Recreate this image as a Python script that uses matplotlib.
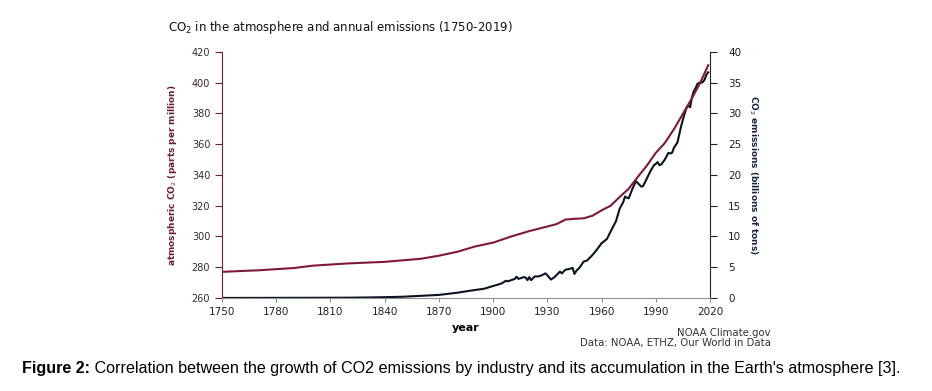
import matplotlib
matplotlib.use("Agg")
import matplotlib.pyplot as plt

# --- data ---
co2_years = [1750, 1770, 1790, 1800, 1820, 1840, 1850, 1860, 1870, 1880, 1890,
             1900, 1910, 1920, 1930, 1935, 1940, 1945, 1950, 1955, 1960, 1965,
             1970, 1975, 1980, 1985, 1990, 1995, 2000, 2005, 2010, 2015, 2019]
co2_ppm = [277, 278, 279.5, 281, 282.5, 283.5, 284.5, 285.5, 287.5, 290, 293.5,
           296, 300, 303.5, 306.5, 308, 311, 311.5, 311.8, 313.5, 317, 320,
           325.7, 331, 338.7, 346, 354.4, 360.8, 369.7, 379.8, 389.9, 401, 411.4]

em_years = [1750, 1760, 1770, 1780, 1790, 1800, 1810, 1820, 1830, 1840, 1850,
            1860, 1870, 1880, 1890, 1895, 1900, 1903, 1905, 1907, 1908, 1910,
            1912, 1913, 1914, 1916, 1917, 1918, 1919, 1920, 1921, 1923, 1925,
            1927, 1929, 1930, 1932, 1934, 1936, 1937, 1938, 1940, 1942, 1944,
            1945, 1946, 1948, 1950, 1952, 1955, 1957, 1960, 1963, 1965, 1968,
            1970, 1972, 1973, 1974, 1975, 1977, 1979, 1980, 1982, 1983, 1985,
            1987, 1989, 1990, 1991, 1992, 1993, 1995, 1997, 1998, 1999, 2000,
            2002, 2003, 2004, 2005, 2006, 2007, 2008, 2009, 2010, 2011, 2012,
            2013, 2014, 2015, 2016, 2017, 2018, 2019]
em_gt = [0.009, 0.01, 0.015, 0.02, 0.025, 0.03, 0.04, 0.05, 0.08, 0.13, 0.2,
         0.35, 0.5, 0.85, 1.3, 1.5, 1.95, 2.2, 2.4, 2.8, 2.7, 2.9,
         3.1, 3.45, 3.1, 3.3, 3.4, 3.3, 2.9, 3.4, 2.9, 3.5, 3.5,
         3.7, 4.0, 3.7, 3.0, 3.4, 4.0, 4.3, 4.0, 4.6, 4.7, 4.9,
         3.9, 4.4, 5.0, 5.9, 6.1, 7.0, 7.7, 8.9, 9.6, 10.8, 12.5,
         14.5, 15.6, 16.5, 16.3, 16.2, 17.7, 19.0, 18.7, 18.1, 18.2, 19.4,
         20.6, 21.6, 21.8, 22.1, 21.6, 21.7, 22.5, 23.6, 23.5, 23.6, 24.4,
         25.3, 26.6, 27.9, 29.0, 30.0, 30.9, 31.3, 31.0, 32.6, 33.6, 34.1,
         34.8, 35.0, 35.0, 35.1, 35.5, 36.3, 36.7]

x_ticks = [1750, 1780, 1810, 1840, 1870, 1900, 1930, 1960, 1990, 2020]
ppm_ticks = [260, 280, 300, 320, 340, 360, 380, 400, 420]
em_ticks = [0, 5, 10, 15, 20, 25, 30, 35, 40]

maroon = "#6b1e3c"
navy = "#1a2340"

fig = plt.figure(figsize=(9.32, 3.91), dpi=100)
ax = fig.add_axes([0.2382, 0.2379, 0.5236, 0.6291])
ax2 = ax.twinx()

ax.plot(co2_years, co2_ppm, color="#7e1a38", lw=1.5, zorder=3)
ax2.plot(em_years, em_gt, color="#0d1220", lw=1.5, zorder=2)
ax.set_zorder(ax2.get_zorder() + 1)
ax.patch.set_visible(False)

ax.set_xlim(1750, 2020)
ax.set_ylim(260, 420)
ax2.set_ylim(0, 40)
ax.set_xticks(x_ticks)
ax.set_yticks(ppm_ticks)
ax2.set_yticks(em_ticks)

for a in (ax, ax2):
    a.spines["top"].set_visible(False)
ax.spines["right"].set_visible(False)
ax2.spines["left"].set_visible(False)
ax2.spines["bottom"].set_visible(False)
ax.spines["left"].set_color(maroon)
ax2.spines["right"].set_color(navy)
ax.spines["bottom"].set_color("#909090")

ax.tick_params(axis="y", colors=maroon, labelcolor="#3a2a30", labelsize=7, length=5, width=0.8)
ax.tick_params(axis="x", colors="#909090", labelcolor="#222222", labelsize=7.5, length=3, width=0.8)
ax2.tick_params(axis="y", colors=navy, labelcolor="#1a2030", labelsize=7.5, length=5, width=0.8, pad=8)

ax.set_ylabel("atmospheric CO$_2$ (parts per million)", color=maroon, fontsize=6.5,
              fontweight="bold", labelpad=9)
ax2.set_ylabel("CO$_2$ emissions (billions of tons)", color=navy, fontsize=6.5,
               fontweight="bold", rotation=270, labelpad=13)
ax.set_xlabel("year", fontsize=8, fontweight="bold", labelpad=4)

fig.text(168 / 932, 1 - 28 / 391, "CO$_2$ in the atmosphere and annual emissions (1750-2019)",
         fontsize=8.5, va="center", ha="left", color="#111111")
fig.text(771 / 932, 1 - 333 / 391, "NOAA Climate.gov", fontsize=7.3, ha="right", va="center",
         color="#333333")
fig.text(771 / 932, 1 - 343 / 391, "Data: NOAA, ETHZ, Our World in Data", fontsize=7.3,
         ha="right", va="center", color="#333333")

# caption with bold lead
cap_y = 1 - 369 / 391
t1 = fig.text(22 / 932, cap_y, "Figure 2:", fontsize=11.6, fontweight="bold",
              family="Liberation Sans", va="center", ha="left")
fig.canvas.draw()
bb = t1.get_window_extent()
fig.text(bb.x1 / fig.bbox.width, cap_y,
         " Correlation between the growth of CO2 emissions by industry and its accumulation in the Earth's atmosphere [3].",
         fontsize=11.6, family="Liberation Sans", va="center", ha="left")

fig.savefig("out.png", dpi=100)
